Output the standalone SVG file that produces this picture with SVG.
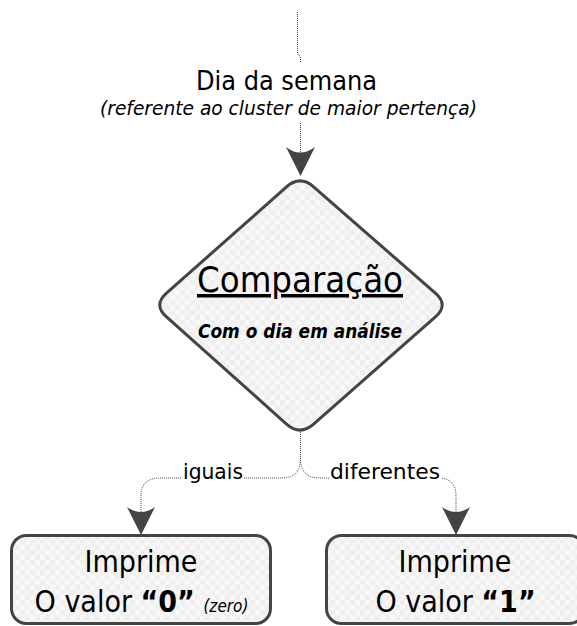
<svg xmlns="http://www.w3.org/2000/svg" width="577" height="626" viewBox="0 0 577 626">
<defs>
<pattern id="chk" width="10" height="10" patternUnits="userSpaceOnUse">
<rect width="10" height="10" fill="#f7f7f7"/>
<rect width="5" height="5" fill="#efefef"/>
<rect x="5" y="5" width="5" height="5" fill="#efefef"/>
</pattern>
<style>
text{font-family:"DejaVu Sans Condensed","DejaVu Sans",sans-serif;fill:#000;}
.shape{fill:url(#chk);stroke:#444;stroke-width:3;}
.dot{fill:none;stroke:#444;stroke-width:1;stroke-dasharray:1 1;}
.head{fill:#444;stroke:none;}
.lbl{font-size:22px;text-anchor:middle;}
.box{font-size:30px;text-anchor:middle;}
</style>
</defs>
<rect width="577" height="626" fill="#fff"/>
<g id="connectors">
<path class="dot" d="M297.5,12 V53 L300.5,57 V63"/>
<path class="dot" d="M300.5,123 V152"/>
<path class="head" d="M286,147 Q300,158 315,147 L300.5,176 Z"/>
<path class="dot" d="M300.5,432 V458 Q300.5,478 282,478 H160 Q141,478 141,496 V512"/>
<path class="dot" d="M300.5,458 Q300.5,478 319,478 H438 Q456,478 456,496 V512"/>
<path class="head" d="M127,507 Q141,517 155,507 L141,535 Z"/>
<path class="head" d="M442,507 Q456,517 470,507 L456,535 Z"/>
<rect x="182" y="460" width="62" height="26" fill="#fff"/>
<rect x="329" y="460" width="112" height="26" fill="#fff"/>
<text class="lbl" x="213" y="479" textLength="60" lengthAdjust="spacingAndGlyphs">iguais</text>
<text class="lbl" x="385" y="479" textLength="110" lengthAdjust="spacingAndGlyphs">diferentes</text>
</g>
<g id="input">
<text x="286.5" y="90" font-size="27" text-anchor="middle" textLength="181" lengthAdjust="spacingAndGlyphs">Dia da semana</text>
<text x="288.5" y="115" font-size="19" font-style="italic" text-anchor="middle" textLength="377" lengthAdjust="spacingAndGlyphs">(referente ao cluster de maior pertença)</text>
</g>
<g id="comparacao">
<path class="shape" d="M286.5,186.9 Q300,175 313.6,186.8 L435.4,293.2 Q449,305 435.4,316.9 L313.6,424.2 Q300,436 286.5,424.1 L166.5,316.9 Q153,305 166.5,293.1 Z"/>
<text x="300" y="292" font-size="35" text-anchor="middle" text-decoration="underline" textLength="206" lengthAdjust="spacingAndGlyphs">Comparação</text>
<text x="300" y="338" font-size="19" font-style="italic" font-weight="bold" text-anchor="middle" textLength="204" lengthAdjust="spacingAndGlyphs">Com o dia em análise</text>
</g>
<g id="iguais-box">
<rect class="shape" x="11.5" y="535.5" width="259" height="88" rx="15"/>
<text class="box" x="141" y="572">Imprime</text>
<text class="box" x="141.5" y="612">O valor <tspan font-weight="bold">“0”</tspan> <tspan font-size="17" font-style="italic">(zero)</tspan></text>
</g>
<g id="diferentes-box">
<rect class="shape" x="326.5" y="535.5" width="258" height="88" rx="15"/>
<text class="box" x="455" y="572">Imprime</text>
<text class="box" x="455.5" y="612">O valor <tspan font-weight="bold">“1”</tspan></text>
</g>
</svg>
